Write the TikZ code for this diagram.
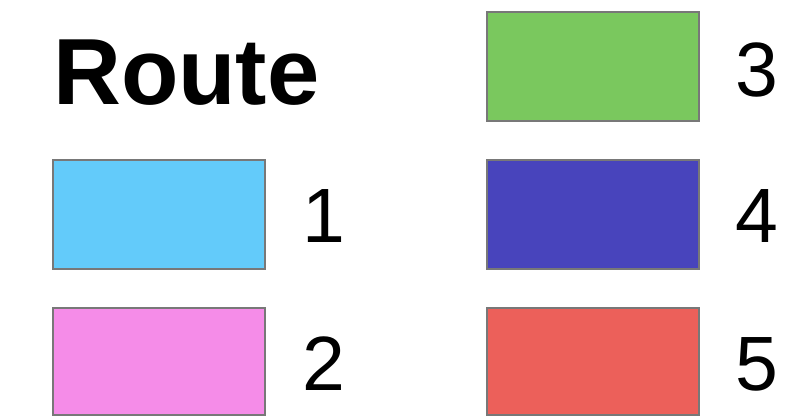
\documentclass[tikz,border=0pt]{standalone}
\usepackage{fontspec}
\setmainfont{Liberation Sans}
\definecolor{cBlue}{RGB}{99,203,250}
\definecolor{cPink}{RGB}{245,140,232}
\definecolor{cGreen}{RGB}{122,200,94}
\definecolor{cIndigo}{RGB}{72,68,188}
\definecolor{cRed}{RGB}{236,96,90}
\definecolor{cEdge}{RGB}{120,120,120}
\tikzset{
  swatch/.style={draw=cEdge, line width=1.4pt},
  lbl/.style={anchor=base west, inner sep=0pt, font=\fontsize{77}{80}\selectfont},
}
\begin{document}
\begin{tikzpicture}[x=1pt,y=-1pt]
\useasboundingbox (0,0) rectangle (795,416);
\node[anchor=base west, inner sep=0pt, font=\fontsize{94}{98}\selectfont\bfseries] (title) at (53,104) {Route};
\filldraw[swatch, fill=cBlue]   (53,160) rectangle (265,269);
\filldraw[swatch, fill=cPink]   (53,308) rectangle (265,415);
\filldraw[swatch, fill=cGreen]  (487,12) rectangle (699,121);
\filldraw[swatch, fill=cIndigo] (487,160) rectangle (699,269);
\filldraw[swatch, fill=cRed]    (487,308) rectangle (699,415);
\node[lbl] (l1) at (302,242) {1};
\node[lbl] (l2) at (302,390) {2};
\node[lbl] (l3) at (735,96) {3};
\node[lbl] (l4) at (735,242) {4};
\node[lbl] (l5) at (735,390) {5};
\end{tikzpicture}
\end{document}
